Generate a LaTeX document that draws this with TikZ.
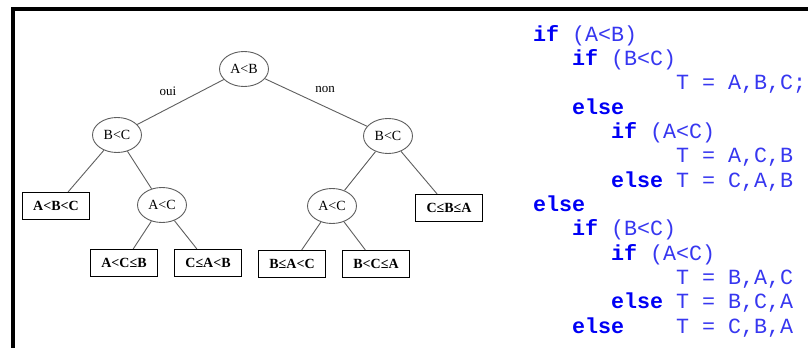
\documentclass[tikz,border=0pt]{standalone}
\usepackage{fontspec}
\setmainfont{Liberation Serif}
\newfontfamily\codefont{Liberation Mono}
\usetikzlibrary{shapes.geometric}
\definecolor{kwblue}{RGB}{0,0,245}
\definecolor{txtblue}{RGB}{55,55,240}
\definecolor{edgegray}{RGB}{95,95,95}
\tikzset{
  cond/.style={ellipse, draw=edgegray, line width=0.9pt, minimum width=49pt, minimum height=35pt, inner sep=0pt, font=\fontsize{14pt}{16pt}\selectfont},
  leaf/.style={rectangle, draw=black, line width=1.1pt, minimum width=67pt, minimum height=27pt, inner sep=0pt, font=\fontsize{14pt}{16pt}\selectfont\bfseries},
  branch/.style={draw=edgegray, line width=0.9pt},
  lbl/.style={inner sep=0pt, font=\fontsize{13pt}{15pt}\selectfont},
  kw/.style={anchor=base west, inner sep=0pt, text=kwblue, font=\fontsize{21.67pt}{24pt}\codefont\bfseries},
  code/.style={anchor=base west, inner sep=0pt, text=txtblue, font=\fontsize{21.67pt}{24pt}\codefont},
}
\begin{document}
\begin{tikzpicture}[x=1pt,y=-1pt]
\useasboundingbox (0,0) rectangle (808,348);
\fill[white] (0,0) rectangle (808,348);
% frame
\draw[line width=4pt, miter limit=10] (808,9) -- (13,9) -- (13,348);
% tree nodes
\node[cond] (root) at (244,69) {A<B};
\node[cond] (bl) at (117,135) {B<C};
\node[cond] (br) at (388,136) {B<C};
\node[cond] (acl) at (162,205) {A<C};
\node[cond] (acr) at (332,206) {A<C};
\node[leaf] (abc) at (56,206) {A<B<C};
\node[leaf] (cba) at (449,208) {C≤B≤A};
\node[leaf] (acb) at (124,263) {A<C≤B};
\node[leaf] (cab) at (208,263) {C≤A<B};
\node[leaf] (bac) at (292,264) {B≤A<C};
\node[leaf] (bca) at (376,264) {B<C≤A};
\node[lbl] (oui) at (168,91) {oui};
\node[lbl] (non) at (325,89) {non};
% branches
\draw[branch] (root) -- (bl);
\draw[branch] (root) -- (br);
\draw[branch] (bl) -- (abc);
\draw[branch] (bl) -- (acl);
\draw[branch] (acl) -- (acb);
\draw[branch] (acl) -- (cab);
\draw[branch] (br) -- (acr);
\draw[branch] (br) -- (cba);
\draw[branch] (acr) -- (bac);
\draw[branch] (acr) -- (bca);
% code
\node[kw]   (l1a) at (533,41) {if};
\node[code] (l1b) at (572,41) {(A<B)};
\node[kw]   (l2a) at (572,65.3) {if};
\node[code] (l2b) at (611,65.3) {(B<C)};
\node[code] (l3a) at (676,89.7) {T = A,B,C;};
\node[kw]   (l4a) at (572,114) {else};
\node[kw]   (l5a) at (611,138.3) {if};
\node[code] (l5b) at (650,138.3) {(A<C)};
\node[code] (l6a) at (676,162.7) {T = A,C,B};
\node[kw]   (l7a) at (611,187) {else};
\node[code] (l7b) at (676,187) {T = C,A,B};
\node[kw]   (l8a) at (533,211.3) {else};
\node[kw]   (l9a) at (572,235.7) {if};
\node[code] (l9b) at (611,235.7) {(B<C)};
\node[kw]   (l10a) at (611,260) {if};
\node[code] (l10b) at (650,260) {(A<C)};
\node[code] (l11a) at (676,284.3) {T = B,A,C};
\node[kw]   (l12a) at (611,308.7) {else};
\node[code] (l12b) at (676,308.7) {T = B,C,A};
\node[kw]   (l13a) at (572,333) {else};
\node[code] (l13b) at (676,333) {T = C,B,A};
\end{tikzpicture}
\end{document}
